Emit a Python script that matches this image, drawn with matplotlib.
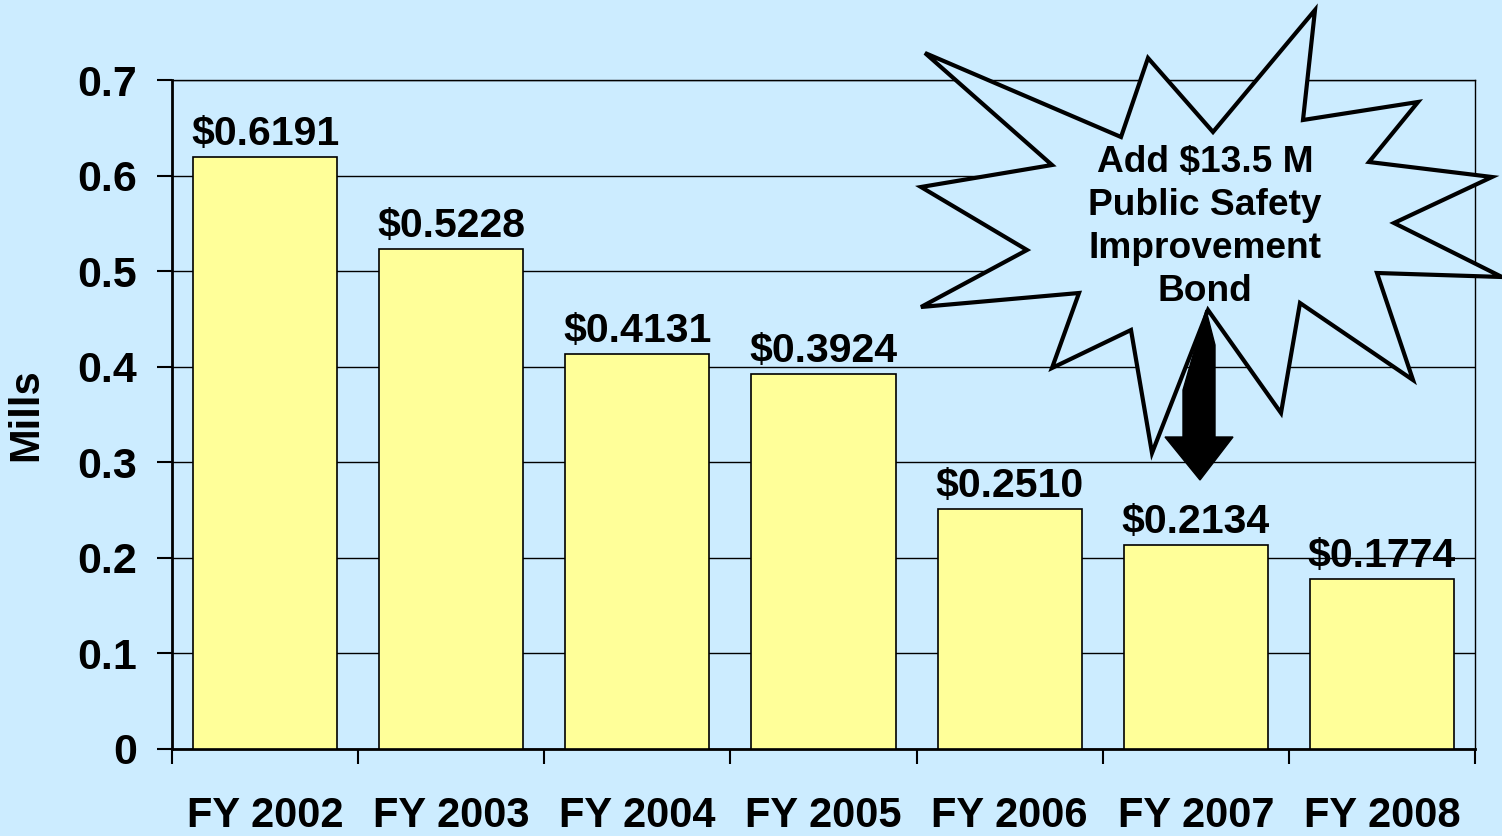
import matplotlib
matplotlib.use("Agg")
import matplotlib.pyplot as plt
from matplotlib.patches import Polygon

plt.rcParams['font.family'] = ['Liberation Sans', 'DejaVu Sans']
plt.rcParams['font.weight'] = 'bold'

years = ['FY 2002', 'FY 2003', 'FY 2004', 'FY 2005', 'FY 2006', 'FY 2007', 'FY 2008']
mills = [0.6191, 0.5228, 0.4131, 0.3924, 0.2510, 0.2134, 0.1774]
labels = ['$0.6191', '$0.5228', '$0.4131', '$0.3924', '$0.2510', '$0.2134', '$0.1774']
yticks = [0, 0.1, 0.2, 0.3, 0.4, 0.5, 0.6, 0.7]
callout = 'Add $13.5 M\nPublic Safety\nImprovement\nBond'

bg = '#CCECFF'
W, H = 1502, 836
fig = plt.figure(figsize=(W / 100, H / 100), dpi=100, facecolor=bg)
ax = fig.add_axes([172 / W, 1 - 749 / H, (1475 - 172) / W, (749 - 80) / H])
ax.set_facecolor(bg)

x = range(len(years))
ax.bar(x, mills, width=0.775, color='#FFFF99', edgecolor='black', linewidth=1.2, zorder=3)
for i, v in enumerate(mills):
    ax.annotate(labels[i], (i, v), xytext=(0, 3), textcoords='offset points',
                ha='center', va='bottom', fontsize=29.5, fontweight='bold', zorder=4)

ax.set_xlim(-0.5, len(years) - 0.5)
ax.set_ylim(0, 0.7)
ax.set_yticks(yticks)
ax.set_yticklabels(['0'] + ['%.1f' % t for t in yticks[1:]])
ax.yaxis.grid(True, color='black', linewidth=1.0, zorder=0)
ax.set_axisbelow(True)

ax.set_xticks(list(x))
ax.set_xticklabels(years)
ax.set_xticks([i - 0.5 for i in range(len(years) + 1)], minor=True)
ax.tick_params(axis='x', which='major', length=0, pad=34, labelsize=30)
ax.tick_params(axis='x', which='minor', length=11, width=1.5, direction='out')
ax.tick_params(axis='y', length=11, width=1.5, pad=14, labelsize=31)

for s in ['left', 'bottom']:
    ax.spines[s].set_linewidth(2)
for s in ['top', 'right']:
    ax.spines[s].set_linewidth(1)

ax.set_ylabel('Mills', fontsize=30, fontweight='bold')
ax.yaxis.set_label_coords((46 - 172) / (1475 - 172), 0.5)

# starburst callout (figure pixel coordinates)
star = [(925, 53), (1121, 137), (1148, 58), (1213, 132), (1315, 10), (1303, 120),
        (1418, 102), (1369, 162), (1492, 177), (1394, 223), (1502, 277), (1377, 273),
        (1413, 380), (1300, 303), (1281, 413), (1208, 310), (1152, 453), (1131, 330),
        (1052, 368), (1079, 293), (921, 307), (1027, 250), (921, 187), (1052, 165)]
star_pts = [(px / W, 1 - py / H) for px, py in star]
fig.patches.append(Polygon(star_pts, closed=True, transform=fig.transFigure,
                           facecolor=bg, edgecolor='black', linewidth=3, zorder=5))

arrow = [(1206, 310), (1215, 345), (1215, 437), (1233, 437), (1200, 480),
         (1165, 437), (1183, 437), (1183, 390)]
arrow_pts = [(px / W, 1 - py / H) for px, py in arrow]
fig.patches.append(Polygon(arrow_pts, closed=True, transform=fig.transFigure,
                           facecolor='black', edgecolor='black', linewidth=1, zorder=6))

fig.text(1205 / W, 1 - 227 / H, callout, ha='center', va='center', fontsize=26.7,
         fontweight='bold', linespacing=1.3, zorder=7)

fig.savefig('out.png', dpi=100, facecolor=bg)
